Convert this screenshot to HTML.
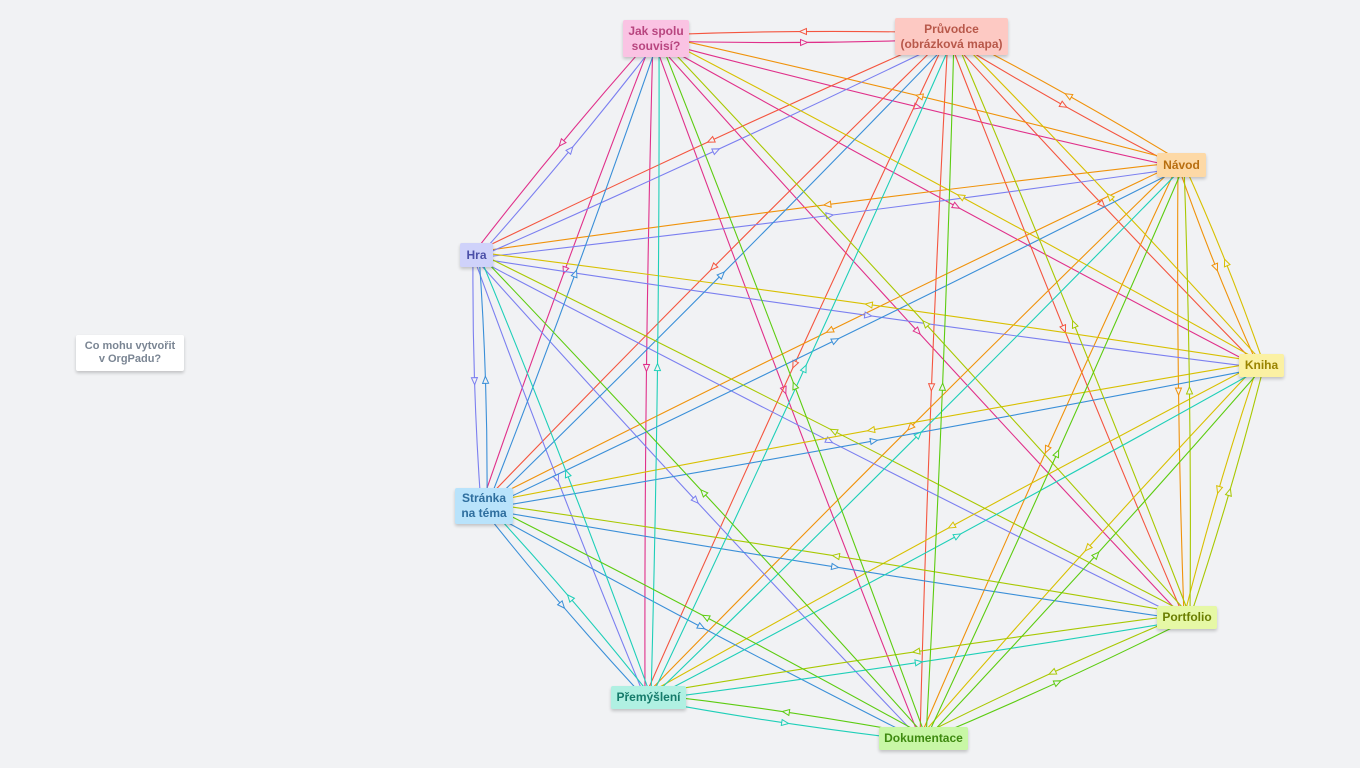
<!DOCTYPE html>
<html><head><meta charset="utf-8"><style>
body{margin:0;width:1360px;height:768px;background:#f1f2f4;position:relative;overflow:hidden;font-family:"Liberation Sans",sans-serif}
svg{position:absolute;left:0;top:0}
.n{position:absolute;display:flex;align-items:center;justify-content:center;text-align:center;font-weight:bold;font-size:12px;line-height:15px;box-shadow:0 2px 3px rgba(0,0,0,.2);border-radius:2px}
</style></head><body>
<svg id="s" width="1360" height="768"></svg>
<div class="n" style="left:76px;top:335px;width:108px;height:36px;background:#fff;color:#7a8593;font-size:11px;line-height:13px">Co mohu vytvořit<br>v OrgPadu?</div>
<div class="n" style="left:623px;top:20px;width:66px;height:37px;background:#fac3e3;color:#b8457f">Jak spolu<br>souvisí?</div>
<div class="n" style="left:895px;top:18px;width:113px;height:37px;background:#fdc9c3;color:#b8584a">Průvodce<br>(obrázková mapa)</div>
<div class="n" style="left:1157px;top:153px;width:49px;height:24px;background:#fdd9a6;color:#b86e10">Návod</div>
<div class="n" style="left:460px;top:243px;width:33px;height:24px;background:#cfd2fa;color:#4b4fa8">Hra</div>
<div class="n" style="left:1239px;top:354px;width:45px;height:23px;background:#fbf1a3;color:#9a8400">Kniha</div>
<div class="n" style="left:455px;top:488px;width:58px;height:36px;background:#b9e3fb;color:#2e6e9e">Stránka<br>na téma</div>
<div class="n" style="left:1157px;top:606px;width:60px;height:23px;background:#e6f8a6;color:#6a7e00">Portfolio</div>
<div class="n" style="left:611px;top:686px;width:75px;height:23px;background:#b0f0e2;color:#157a6a">Přemýšlení</div>
<div class="n" style="left:879px;top:727px;width:89px;height:23px;background:#c8f7a6;color:#3e8a10">Dokumentace</div>
<script>
var N=[[656,38,"#e0308a"],[951,36,"#f4553f"],[1181,165,"#f0920a"],[476,255,"#7b7ff0"],[1261,365,"#d8c000"],[484,506,"#3a8fd8"],[1187,617,"#a8c800"],[648,697,"#1ecfb8"],[923,738,"#5ccc10"]];
var s="";
for(var i=0;i<N.length;i++)for(var j=0;j<N.length;j++){if(i==j)continue;
var a=N[i],b=N[j],dx=b[0]-a[0],dy=b[1]-a[1],L=Math.hypot(dx,dy),nx=-dy/L,ny=dx/L,e=3,d=5;
var ax=a[0]+nx*e,ay=a[1]+ny*e,bx=b[0]+nx*e,by=b[1]+ny*e;
var cx=(ax+bx)/2+nx*d,cy=(ay+by)/2+ny*d;
var mx=(ax+bx)/2+nx*d/2,my=(ay+by)/2+ny*d/2,ux=dx/L,uy=dy/L;
s+='<path d="M'+ax+' '+ay+' Q'+cx+' '+cy+' '+bx+' '+by+'" fill="none" stroke="'+a[2]+'" stroke-width="1.1"/>';
var tx=mx+ux*4,ty=my+uy*4,p1x=mx-ux*3+nx*3,p1y=my-uy*3+ny*3,p2x=mx-ux*3-nx*3,p2y=my-uy*3-ny*3;
s+='<polygon points="'+tx+','+ty+' '+p1x+','+p1y+' '+p2x+','+p2y+'" fill="#f1f2f4" stroke="'+a[2]+'" stroke-width="1"/>';}
document.getElementById("s").innerHTML=s;
</script>
</body></html>
